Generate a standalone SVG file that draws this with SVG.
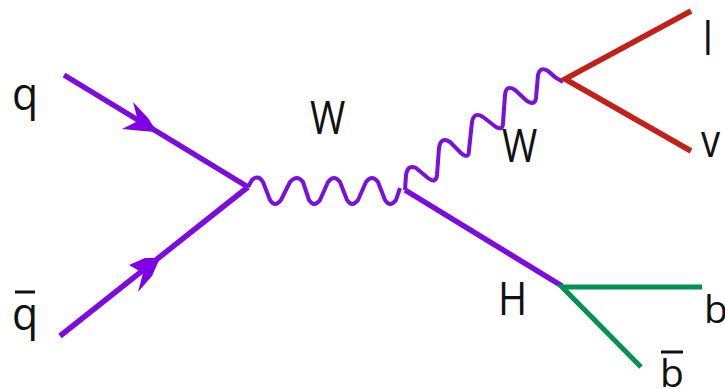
<svg xmlns="http://www.w3.org/2000/svg" width="725" height="389" viewBox="0 0 725 389">
<style>
.p{fill:none;stroke:#7d0ae0;stroke-width:5.5}
.w{fill:none;stroke:#7a10dc;stroke-width:4;stroke-linejoin:round}
.r{fill:none;stroke:#c4201a;stroke-width:5.5}
.g{fill:none;stroke:#00924f;stroke-width:5}
.a{fill:#8000e6}
.b{stroke:#111;stroke-width:3}
text{font-family:"Open Sans","Noto Sans",sans-serif;font-size:45px;fill:#111}
.s{font-size:39px}
</style>
<rect width="725" height="389" fill="#fff"/>
<g id="connectors">
<path class="p" d="M64 75L248 187"/>
<path class="a" d="M157 132L148 118L133 102L138 121L122 129L143 131Z"/>
<path class="p" d="M60 336L248 187"/>
<path class="a" d="M160 258L145 258L129 265L143 273L138 292L152 276Z"/>
<path class="w" d="M248 187L252 180Q258 174 263 182L270 200Q275 208 281 200L290 182Q297 174 303 182L309 200Q314 208 320 200L328 182Q334 174 340 182L347 200Q352 208 358 200L366 182Q372 174 378 182L385 200Q390 208 396 200L400 188"/>
<path class="w" d="M405 190L406 175Q408 164 416 168L428 178Q436 184 437 175L439 148Q441 136 450 142L461 153Q469 160 469 150L472 122Q474 111 483 117L496 127Q503 131 503 123L505 95Q506 84 515 90L527 101Q535 106 536 98L538 75Q540 66 548 71Q555 78 563 82"/>
<path class="p" d="M405 190L562 286"/>
<path class="r" d="M691 11L565 79L691 151"/>
<path class="g" d="M702 287H562L641 367"/>
</g>
<g id="node-q"><text transform="translate(12 110) scale(.95 1)">q</text></g>
<g id="node-qbar"><text transform="translate(12 330) scale(.95 1)">q</text><line class="b" x1="15" y1="292" x2="35" y2="292"/></g>
<g id="node-w1"><text transform="translate(310 134) scale(.85 1)">W</text></g>
<g id="node-w2"><text transform="translate(502 162) scale(.85 1)">W</text></g>
<g id="node-h"><text transform="translate(498 315) scale(.88 1)">H</text></g>
<g id="node-l"><text transform="translate(703 55) scale(.85 1)">l</text></g>
<g id="node-v"><text transform="translate(701 157) scale(.85 1)">v</text></g>
<g id="node-b"><text class="s" x="704" y="323">b</text></g>
<g id="node-bbar"><text class="s" x="660" y="387">b</text><line class="b" x1="661" y1="352" x2="683" y2="352"/></g>
</svg>
